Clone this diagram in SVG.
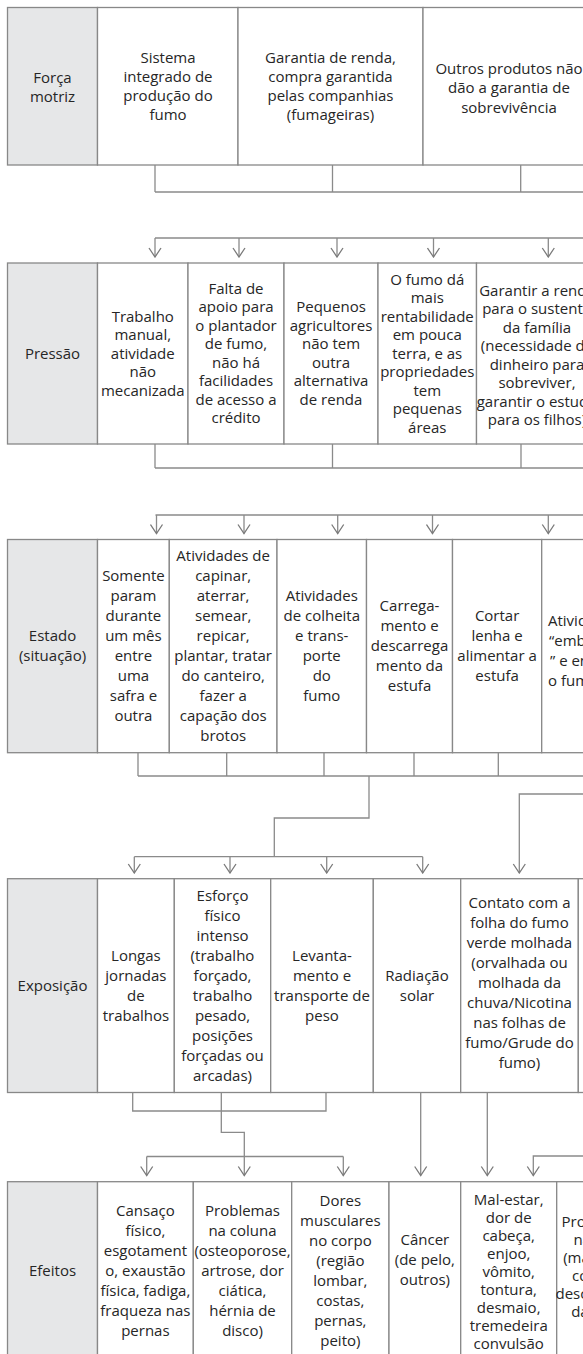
<svg xmlns="http://www.w3.org/2000/svg" width="583" height="1354" viewBox="0 0 583 1354">
<defs>
<style>
.cell{fill:#fff;stroke:#888;stroke-width:1.3}
.lbl{fill:#e6e7e8}
.t{font-family:"Open Sans","Noto Sans","DejaVu Sans",sans-serif;font-size:15px;fill:#262626;text-anchor:middle}
.ts{text-anchor:start}
.c{fill:none;stroke:#8a8a8a;stroke-width:1.3}
</style>
<marker id="arr" markerUnits="userSpaceOnUse" viewBox="-10 -7 11 14" markerWidth="11" markerHeight="14" refX="0" refY="0" orient="auto">
<path d="M-9,-6 L0,0 L-9,6" fill="none" stroke="#7a7a7a" stroke-width="1.3"/>
</marker>
</defs>
<rect width="583" height="1354" fill="#fff"/>

<!-- Row 1: Força motriz -->
<g id="n-forca-label"><rect class="cell lbl" x="7.5" y="7.5" width="90" height="157.5"/>
<text class="t"><tspan x="52.5" y="83">Força</tspan><tspan x="52.5" y="102">motriz</tspan></text></g>
<g id="n-sistema"><rect class="cell" x="97.5" y="7.5" width="140.5" height="157.5"/>
<text class="t"><tspan x="168" y="62.5">Sistema</tspan><tspan x="168" y="81.5">integrado de</tspan><tspan x="168" y="100.5">produção do</tspan><tspan x="168" y="119.5">fumo</tspan></text></g>
<g id="n-garantia"><rect class="cell" x="238" y="7.5" width="185" height="157.5"/>
<text class="t"><tspan x="330.5" y="62.5">Garantia de renda,</tspan><tspan x="330.5" y="81.5">compra garantida</tspan><tspan x="330.5" y="100.5">pelas companhias</tspan><tspan x="330.5" y="119.5">(fumageiras)</tspan></text></g>
<g id="n-outros"><rect class="cell" x="423" y="7.5" width="220" height="157.5"/>
<text class="t"><tspan x="509" y="73.5">Outros produtos não</tspan><tspan x="509" y="93">dão a garantia de</tspan><tspan x="509" y="112.5">sobrevivência</tspan></text></g>

<!-- Row 2: Pressão -->
<g id="n-pressao-label"><rect class="cell lbl" x="7.5" y="263" width="90" height="181"/>
<text class="t"><tspan x="52.5" y="358.5">Pressão</tspan></text></g>
<g id="n-trabalho"><rect class="cell" x="97.5" y="263" width="90.5" height="181"/>
<text class="t"><tspan x="142.75" y="321.5">Trabalho</tspan><tspan x="142.75" y="340">manual,</tspan><tspan x="142.75" y="358.5">atividade</tspan><tspan x="142.75" y="377">não</tspan><tspan x="142.75" y="395.5">mecanizada</tspan></text></g>
<g id="n-falta"><rect class="cell" x="188" y="263" width="96" height="181"/>
<text class="t"><tspan x="236" y="293.75">Falta de</tspan><tspan x="236" y="312.25">apoio para</tspan><tspan x="236" y="330.75">o plantador</tspan><tspan x="236" y="349.25">de fumo,</tspan><tspan x="236" y="367.75">não há</tspan><tspan x="236" y="386.25">facilidades</tspan><tspan x="236" y="404.75">de acesso a</tspan><tspan x="236" y="423.25">crédito</tspan></text></g>
<g id="n-pequenos"><rect class="cell" x="284" y="263" width="94" height="181"/>
<text class="t"><tspan x="331" y="312.25">Pequenos</tspan><tspan x="331" y="330.75">agricultores</tspan><tspan x="331" y="349.25">não tem</tspan><tspan x="331" y="367.75">outra</tspan><tspan x="331" y="386.25">alternativa</tspan><tspan x="331" y="404.75">de renda</tspan></text></g>
<g id="n-ofumo"><rect class="cell" x="378" y="263" width="98.5" height="181"/>
<text class="t"><tspan x="427.25" y="284.5">O fumo dá</tspan><tspan x="427.25" y="303">mais</tspan><tspan x="427.25" y="321.5">rentabilidade</tspan><tspan x="427.25" y="340">em pouca</tspan><tspan x="427.25" y="358.5">terra, e as</tspan><tspan x="427.25" y="377">propriedades</tspan><tspan x="427.25" y="395.5">tem</tspan><tspan x="427.25" y="414">pequenas</tspan><tspan x="427.25" y="432.5">áreas</tspan></text></g>
<g id="n-garantir"><rect class="cell" x="476.5" y="263" width="200" height="181"/>
<text class="t"><tspan x="537" y="295.75">Garantir a renda</tspan><tspan x="537" y="314.25">para o sustento</tspan><tspan x="537" y="332.75">da família</tspan><tspan x="537" y="351.25">(necessidade de</tspan><tspan x="537" y="369.75">dinheiro para</tspan><tspan x="537" y="388.25">sobreviver,</tspan><tspan x="537" y="406.75">garantir o estudo</tspan><tspan x="537" y="425.25">para os filhos)</tspan></text></g>

<!-- Row 3: Estado -->
<g id="n-estado-label"><rect class="cell lbl" x="7.5" y="539.5" width="90" height="213.2"/>
<text class="t"><tspan x="52.5" y="641">Estado</tspan><tspan x="52.5" y="661">(situação)</tspan></text></g>
<g id="n-somente"><rect class="cell" x="97.5" y="539.5" width="71.8" height="213.2"/>
<text class="t"><tspan x="133.4" y="581">Somente</tspan><tspan x="133.4" y="601">param</tspan><tspan x="133.4" y="621">durante</tspan><tspan x="133.4" y="641">um mês</tspan><tspan x="133.4" y="661">entre</tspan><tspan x="133.4" y="681">uma</tspan><tspan x="133.4" y="701">safra e</tspan><tspan x="133.4" y="721">outra</tspan></text></g>
<g id="n-capinar"><rect class="cell" x="169.3" y="539.5" width="107.7" height="213.2"/>
<text class="t"><tspan x="223.15" y="561">Atividades de</tspan><tspan x="223.15" y="581">capinar,</tspan><tspan x="223.15" y="601">aterrar,</tspan><tspan x="223.15" y="621">semear,</tspan><tspan x="223.15" y="641">repicar,</tspan><tspan x="223.15" y="661">plantar, tratar</tspan><tspan x="223.15" y="681">do canteiro,</tspan><tspan x="223.15" y="701">fazer a</tspan><tspan x="223.15" y="721">capação dos</tspan><tspan x="223.15" y="741">brotos</tspan></text></g>
<g id="n-colheita"><rect class="cell" x="277" y="539.5" width="89.5" height="213.2"/>
<text class="t"><tspan x="321.75" y="601">Atividades</tspan><tspan x="321.75" y="621">de colheita</tspan><tspan x="321.75" y="641">e trans-</tspan><tspan x="321.75" y="661">porte</tspan><tspan x="321.75" y="681">do</tspan><tspan x="321.75" y="701">fumo</tspan></text></g>
<g id="n-carregamento"><rect class="cell" x="366.5" y="539.5" width="86" height="213.2"/>
<text class="t"><tspan x="409.5" y="611">Carrega-</tspan><tspan x="409.5" y="631">mento e</tspan><tspan x="409.5" y="651">descarrega</tspan><tspan x="409.5" y="671">mento da</tspan><tspan x="409.5" y="691">estufa</tspan></text></g>
<g id="n-cortar"><rect class="cell" x="452.5" y="539.5" width="89.2" height="213.2"/>
<text class="t"><tspan x="497.1" y="621">Cortar</tspan><tspan x="497.1" y="641">lenha e</tspan><tspan x="497.1" y="661">alimentar a</tspan><tspan x="497.1" y="681">estufa</tspan></text></g>
<g id="n-embonecar"><rect class="cell" x="541.7" y="539.5" width="200" height="213.2"/>
<text class="t ts"><tspan x="548" y="626">Atividades de</tspan><tspan x="549" y="646">“embonecar</tspan><tspan x="550" y="666">” e enfardar</tspan><tspan x="548" y="686">o fumo</tspan></text></g>

<!-- Row 4: Exposição -->
<g id="n-exposicao-label"><rect class="cell lbl" x="7.5" y="878.7" width="90" height="213.8"/>
<text class="t"><tspan x="52.5" y="990.6">Exposição</tspan></text></g>
<g id="n-longas"><rect class="cell" x="97.5" y="878.7" width="76.8" height="213.8"/>
<text class="t"><tspan x="135.9" y="960.6">Longas</tspan><tspan x="135.9" y="980.6">jornadas</tspan><tspan x="135.9" y="1000.6">de</tspan><tspan x="135.9" y="1020.6">trabalhos</tspan></text></g>
<g id="n-esforco"><rect class="cell" x="174.3" y="878.7" width="96.4" height="213.8"/>
<text class="t"><tspan x="222.5" y="900.6">Esforço</tspan><tspan x="222.5" y="920.6">físico</tspan><tspan x="222.5" y="940.6">intenso</tspan><tspan x="222.5" y="960.6">(trabalho</tspan><tspan x="222.5" y="980.6">forçado,</tspan><tspan x="222.5" y="1000.6">trabalho</tspan><tspan x="222.5" y="1020.6">pesado,</tspan><tspan x="222.5" y="1040.6">posições</tspan><tspan x="222.5" y="1060.6">forçadas ou</tspan><tspan x="222.5" y="1080.6">arcadas)</tspan></text></g>
<g id="n-levantamento"><rect class="cell" x="270.7" y="878.7" width="102.6" height="213.8"/>
<text class="t"><tspan x="322" y="960.6">Levanta-</tspan><tspan x="322" y="980.6">mento e</tspan><tspan x="322" y="1000.6">transporte de</tspan><tspan x="322" y="1020.6">peso</tspan></text></g>
<g id="n-radiacao"><rect class="cell" x="373.3" y="878.7" width="87.4" height="213.8"/>
<text class="t"><tspan x="417" y="980.6">Radiação</tspan><tspan x="417" y="1000.6">solar</tspan></text></g>
<g id="n-contato"><rect class="cell" x="460.7" y="878.7" width="117.6" height="213.8"/>
<text class="t"><tspan x="519.5" y="908">Contato com a</tspan><tspan x="519.5" y="928">folha do fumo</tspan><tspan x="519.5" y="948">verde molhada</tspan><tspan x="519.5" y="968">(orvalhada ou</tspan><tspan x="519.5" y="988">molhada da</tspan><tspan x="519.5" y="1008">chuva/Nicotina</tspan><tspan x="519.5" y="1028">nas folhas de</tspan><tspan x="519.5" y="1048">fumo/Grude do</tspan><tspan x="519.5" y="1068">fumo)</tspan></text></g>
<g id="n-exposicao-next"><rect class="cell" x="578.3" y="878.7" width="200" height="213.8"/></g>

<!-- Row 5: Efeitos -->
<g id="n-efeitos-label"><rect class="cell lbl" x="7.5" y="1181.7" width="90" height="180"/>
<text class="t"><tspan x="52.5" y="1276">Efeitos</tspan></text></g>
<g id="n-cansaco"><rect class="cell" x="97.5" y="1181.7" width="95.8" height="180"/>
<text class="t"><tspan x="145.4" y="1216">Cansaço</tspan><tspan x="145.4" y="1236">físico,</tspan><tspan x="145.4" y="1256">esgotament</tspan><tspan x="145.4" y="1276">o, exaustão</tspan><tspan x="145.4" y="1296">física, fadiga,</tspan><tspan x="145.4" y="1316">fraqueza nas</tspan><tspan x="145.4" y="1336">pernas</tspan></text></g>
<g id="n-coluna"><rect class="cell" x="193.3" y="1181.7" width="98.4" height="180"/>
<text class="t"><tspan x="242.5" y="1216">Problemas</tspan><tspan x="242.5" y="1236">na coluna</tspan><tspan x="242.5" y="1256">(osteoporose,</tspan><tspan x="242.5" y="1276">artrose, dor</tspan><tspan x="242.5" y="1296">ciática,</tspan><tspan x="242.5" y="1316">hérnia de</tspan><tspan x="242.5" y="1336">disco)</tspan></text></g>
<g id="n-dores"><rect class="cell" x="291.7" y="1181.7" width="97.3" height="180"/>
<text class="t"><tspan x="340.35" y="1206">Dores</tspan><tspan x="340.35" y="1226">musculares</tspan><tspan x="340.35" y="1246">no corpo</tspan><tspan x="340.35" y="1266">(região</tspan><tspan x="340.35" y="1286">lombar,</tspan><tspan x="340.35" y="1306">costas,</tspan><tspan x="340.35" y="1326">pernas,</tspan><tspan x="340.35" y="1346">peito)</tspan></text></g>
<g id="n-cancer"><rect class="cell" x="389" y="1181.7" width="71.7" height="180"/>
<text class="t"><tspan x="424.85" y="1245">Câncer</tspan><tspan x="424.85" y="1265">(de pelo,</tspan><tspan x="424.85" y="1285">outros)</tspan></text></g>
<g id="n-malestar"><rect class="cell" x="460.7" y="1181.7" width="96" height="180"/>
<text class="t"><tspan x="508.7" y="1205">Mal-estar,</tspan><tspan x="508.7" y="1223">dor de</tspan><tspan x="508.7" y="1241">cabeça,</tspan><tspan x="508.7" y="1259">enjoo,</tspan><tspan x="508.7" y="1277">vômito,</tspan><tspan x="508.7" y="1295">tontura,</tspan><tspan x="508.7" y="1313">desmaio,</tspan><tspan x="508.7" y="1331">tremedeira</tspan><tspan x="508.7" y="1349">convulsão</tspan></text></g>
<g id="n-pele"><rect class="cell" x="556.7" y="1181.7" width="200" height="180"/>
<text class="t"><tspan x="599" y="1226.7">Problemas</tspan><tspan x="599" y="1244.7">na pele</tspan><tspan x="599" y="1262.7">(manchas,</tspan><tspan x="599" y="1280.7">coceira,</tspan><tspan x="599" y="1298.7">descamação</tspan><tspan x="599" y="1316.7">da pele)</tspan></text></g>

<!-- Connectors -->
<g id="connectors" class="c">
<path d="M155,165 V192 M332.5,165 V192 M520.7,165 V192 M155,192 H600"/>
<path d="M155,238 H600"/>
<path d="M155,238 V257" marker-end="url(#arr)"/>
<path d="M239,238 V257" marker-end="url(#arr)"/>
<path d="M337,238 V257" marker-end="url(#arr)"/>
<path d="M433.5,238 V257" marker-end="url(#arr)"/>
<path d="M548.3,238 V257" marker-end="url(#arr)"/>

<path d="M155,444 V468 M332.5,444 V468 M521,444 V468 M155,468 H600"/>
<path d="M155.5,515 H600"/>
<path d="M156.5,515 V533.5" marker-end="url(#arr)"/>
<path d="M244,515 V533.5" marker-end="url(#arr)"/>
<path d="M337.7,515 V533.5" marker-end="url(#arr)"/>
<path d="M432.5,515 V533.5" marker-end="url(#arr)"/>
<path d="M548.3,515 V533.5" marker-end="url(#arr)"/>

<path d="M138,752.7 V776 M226.7,752.7 V776 M324,752.7 V776 M414,752.7 V776 M498.3,752.7 V776 M138,776 H600"/>
<path d="M369,776 V818 H274.3 V856.7"/>
<path d="M134.3,856.7 H422.7"/>
<path d="M134.3,856.7 V873" marker-end="url(#arr)"/>
<path d="M230,856.7 V873" marker-end="url(#arr)"/>
<path d="M326.7,856.7 V873" marker-end="url(#arr)"/>
<path d="M422.7,856.7 V873" marker-end="url(#arr)"/>
<path d="M600,794 H519.3 V873" marker-end="url(#arr)"/>

<path d="M132.7,1092.5 V1111 H326 V1092.5"/>
<path d="M221.3,1092.5 V1132.3 H244.3 V1175.5" marker-end="url(#arr)"/>
<path d="M146.7,1156.5 H343.3"/>
<path d="M146.7,1156.5 V1175.5" marker-end="url(#arr)"/>
<path d="M343.3,1156.5 V1175.5" marker-end="url(#arr)"/>
<path d="M420.7,1092.5 V1175.5" marker-end="url(#arr)"/>
<path d="M487.3,1092.5 V1175.5" marker-end="url(#arr)"/>
<path d="M600,1156 H533.3 V1175.5" marker-end="url(#arr)"/>
</g>
</svg>
